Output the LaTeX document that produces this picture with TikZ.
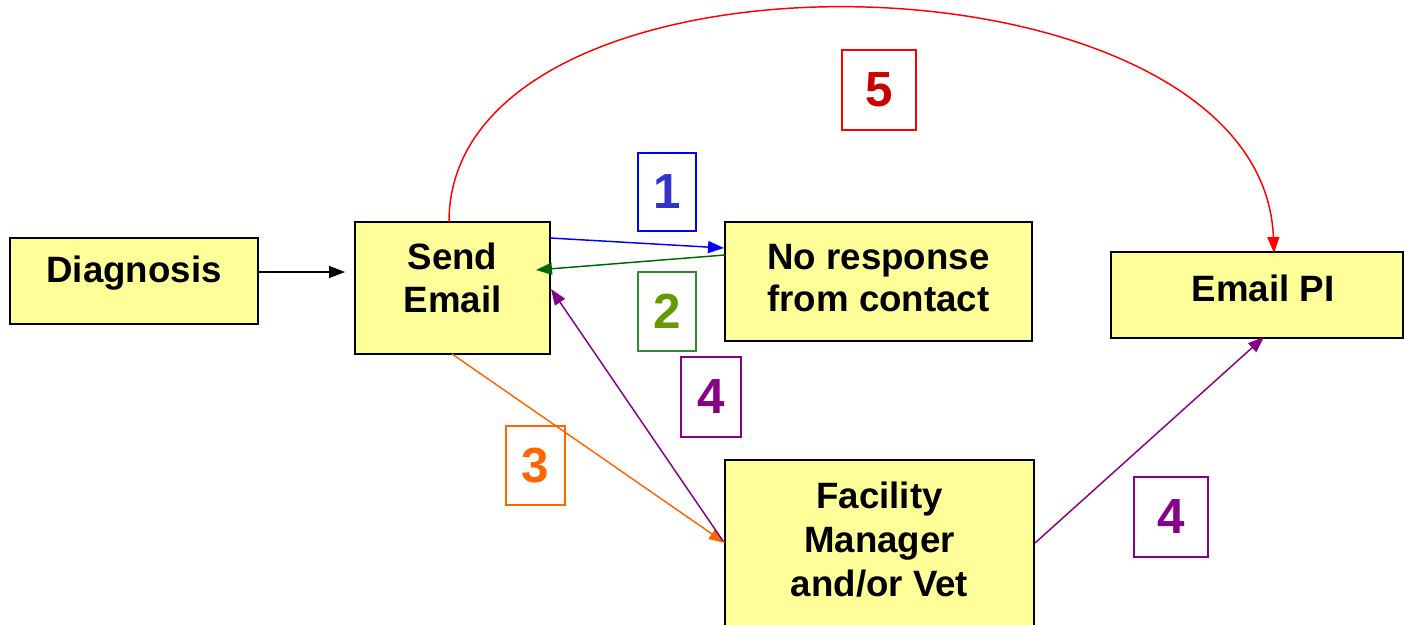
\documentclass[tikz,border=0pt]{standalone}
\usepackage{fontspec}
\setmainfont{Liberation Sans}
\usetikzlibrary{arrows.meta}
\definecolor{boxyellow}{HTML}{FFFF99}
\definecolor{cblue}{HTML}{0000FF}
\definecolor{tblue}{HTML}{3333CC}
\definecolor{cgreen}{HTML}{006600}
\definecolor{bgreen}{HTML}{338833}
\definecolor{tgreen}{HTML}{669900}
\definecolor{cpurple}{HTML}{880088}
\definecolor{corange}{HTML}{FF6600}
\definecolor{cred}{HTML}{FF0000}
\definecolor{tred}{HTML}{CC0000}
\tikzset{
  stepbox/.style={draw=black, line width=1.6pt, fill=boxyellow, inner sep=0pt},
  steptext/.style={inner sep=0pt, align=center, font=\fontsize{27.5}{32}\selectfont\bfseries},
  numbox/.style={draw, line width=1.1pt, fill=white, inner sep=0pt, minimum width=#1*0.75pt,
    font=\fontsize{37}{40}\selectfont\bfseries},
  numbox/.default=58,
  conn/.style={line width=1.1pt, -{Triangle[length=12pt,width=9pt]}}
}
\begin{document}
\begin{tikzpicture}[x=0.75pt,y=-0.75pt]
\useasboundingbox (0,0) rectangle (1404,625);
% boxes
\node[stepbox, minimum width=248*0.75pt, minimum height=86*0.75pt] (diag) at (134,281) {};
\node[steptext] (diagt) at (134,273) {Diagnosis};
\node[stepbox, minimum width=195*0.75pt, minimum height=132*0.75pt] (send) at (452.5,288) {};
\node[steptext] (sendt) at (452.5,278) {Send\\Email};
\node[stepbox, minimum width=307*0.75pt, minimum height=119*0.75pt] (nores) at (878.5,281.5) {};
\node[steptext] (norest) at (878.5,278) {No response\\from contact};
\node[stepbox, minimum width=292*0.75pt, minimum height=86*0.75pt] (pi) at (1257,295) {};
\node[steptext] (pit) at (1263,288) {Email PI};
\node[stepbox, minimum width=309*0.75pt, minimum height=176*0.75pt] (fac) at (879.5,548) {};
\node[steptext, font=\fontsize{27.5}{33}\selectfont\bfseries] (fact) at (879.5,540) {Facility\\Manager\\and/or Vet};
% coordinates
\coordinate (d1) at (258,272);
\coordinate (s1) at (345,272);
\coordinate (b1) at (550,238);
\coordinate (b2) at (724,248);
\coordinate (g1) at (725,255);
\coordinate (g2) at (536,270);
\coordinate (p1) at (723,541);
\coordinate (p2) at (551,289);
\coordinate (o1) at (452,354);
\coordinate (o2) at (725,543);
\coordinate (q1) at (1035,543);
\coordinate (q2) at (1264,337);
\coordinate (r1) at (449,222);
\coordinate (r2) at (1274,253);
% connectors
\draw[conn, black] (d1) -- (s1);
\draw[conn, cblue] (b1) -- (b2);
\draw[conn, cgreen] (g1) -- (g2);
\draw[conn, corange] (o1) -- (o2);
\draw[conn, cpurple] (p1) -- (p2);
\draw[conn, cpurple] (q1) -- (q2);
\draw[conn, cred] (r1) .. controls (449,-75) and (1262,-60) .. (r2);
% number labels
\node[numbox, draw=cblue, text=tblue, minimum height=78*0.75pt] (n1) at (667,192) {1};
\node[numbox, draw=bgreen, text=tgreen, minimum height=79*0.75pt] (n2) at (667,311.5) {2};
\node[numbox=60, draw=cpurple, text=cpurple, minimum height=80*0.75pt] (n4a) at (711,397) {4};
\node[numbox=59, draw=corange, text=corange, minimum height=79*0.75pt, fill=none] (n3) at (535.5,465.5) {3};
\node[numbox=74, draw=cred, text=tred, minimum height=80*0.75pt] (n5) at (879,90) {5};
\node[numbox=74, draw=cpurple, text=cpurple, minimum height=80*0.75pt] (n4b) at (1171,517) {4};
\end{tikzpicture}
\end{document}
